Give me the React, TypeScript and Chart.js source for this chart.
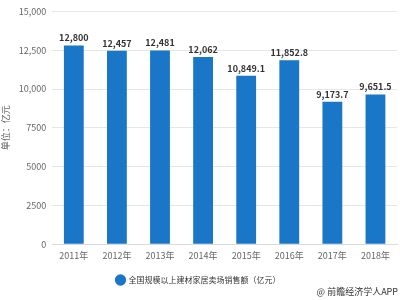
import React, { useEffect, useRef } from "react";
import { Chart, registerables } from "chart.js";

Chart.register(...registerables);

const categories = ["2011年", "2012年", "2013年", "2014年", "2015年", "2016年", "2017年", "2018年"];
const salesValues = [12800, 12457, 12481, 12062, 10849.1, 11852.8, 9173.7, 9651.5];
const valueLabels = ["12,800", "12,457", "12,481", "12,062", "10,849.1", "11,852.8", "9,173.7", "9,651.5"];
const yTickValues = [0, 2500, 5000, 7500, 10000, 12500, 15000];
const yTickLabels = ["0", "2500", "5000", "7500", "10,000", "12,500", "15,000"];
const seriesName = "全国规模以上建材家居卖场销售额（亿元）";
const axisTitle = "单位：亿元";
const footerText = "@ 前瞻经济学人APP";

const FONT = "'Noto Sans CJK SC', 'Noto Sans', sans-serif";

const valueLabelPlugin = {
  id: "valueLabels",
  afterDatasetsDraw(chart: any) {
    const ctx = chart.ctx;
    const meta = chart.getDatasetMeta(0);
    ctx.save();
    ctx.font = `bold 9px ${FONT}`;
    ctx.fillStyle = "#333333";
    ctx.textAlign = "center";
    ctx.textBaseline = "bottom";
    meta.data.forEach((bar: any, i: number) => {
      ctx.fillText(valueLabels[i], bar.x, bar.y - 3);
    });
    ctx.restore();
  },
};

const footerPlugin = {
  id: "footer",
  afterDraw(chart: any) {
    const ctx = chart.ctx;
    ctx.save();
    ctx.font = `9px ${FONT}`;
    ctx.fillStyle = "#333333";
    ctx.textAlign = "right";
    ctx.textBaseline = "middle";
    ctx.fillText(footerText, chart.width - 2, 292);
    ctx.restore();
  },
};

export default function App() {
  const canvasRef = useRef<HTMLCanvasElement | null>(null);

  useEffect(() => {
    document.body.style.margin = "0";
    const canvas = canvasRef.current;
    if (!canvas) return;
    const chart = new Chart(canvas, {
      type: "bar",
      data: {
        labels: categories,
        datasets: [
          {
            label: seriesName,
            data: salesValues,
            backgroundColor: "#1a76c7",
            borderWidth: 0,
            barPercentage: 0.46,
            categoryPercentage: 1,
          },
        ],
      },
      options: {
        animation: false,
        responsive: false,
        maintainAspectRatio: false,
        layout: { padding: { left: 0, right: 3, top: 0, bottom: 6 } },
        plugins: {
          legend: {
            position: "bottom",
            labels: {
              usePointStyle: true,
              pointStyle: "circle",
              boxWidth: 8,
              boxHeight: 8,
              padding: 9,
              color: "#333333",
              font: { family: FONT, size: 8 },
            },
          },
          tooltip: { enabled: false },
        },
        scales: {
          x: {
            grid: { display: false, drawTicks: false },
            border: { color: "#d9d9d9" },
            ticks: {
              color: "#666666",
              font: { family: FONT, size: 9 },
              padding: 6,
              maxRotation: 0,
            },
          },
          y: {
            min: 0,
            max: 15000,
            afterBuildTicks(axis: any) {
              axis.ticks = yTickValues.map((v) => ({ value: v }));
            },
            grid: { color: "#e6e6e6", drawTicks: false },
            border: { display: false },
            ticks: {
              color: "#666666",
              font: { family: FONT, size: 9 },
              padding: 6,
              callback(value: any) {
                const idx = yTickValues.indexOf(Number(value));
                return idx >= 0 ? yTickLabels[idx] : "";
              },
            },
            title: {
              display: true,
              text: axisTitle,
              color: "#666666",
              font: { family: FONT, size: 9 },
              padding: { top: 0, bottom: 2 },
            },
          },
        },
      },
      plugins: [valueLabelPlugin, footerPlugin],
    });
    return () => chart.destroy();
  }, []);

  return <canvas ref={canvasRef} width={400} height={300} style={{ display: "block" }} />;
}
